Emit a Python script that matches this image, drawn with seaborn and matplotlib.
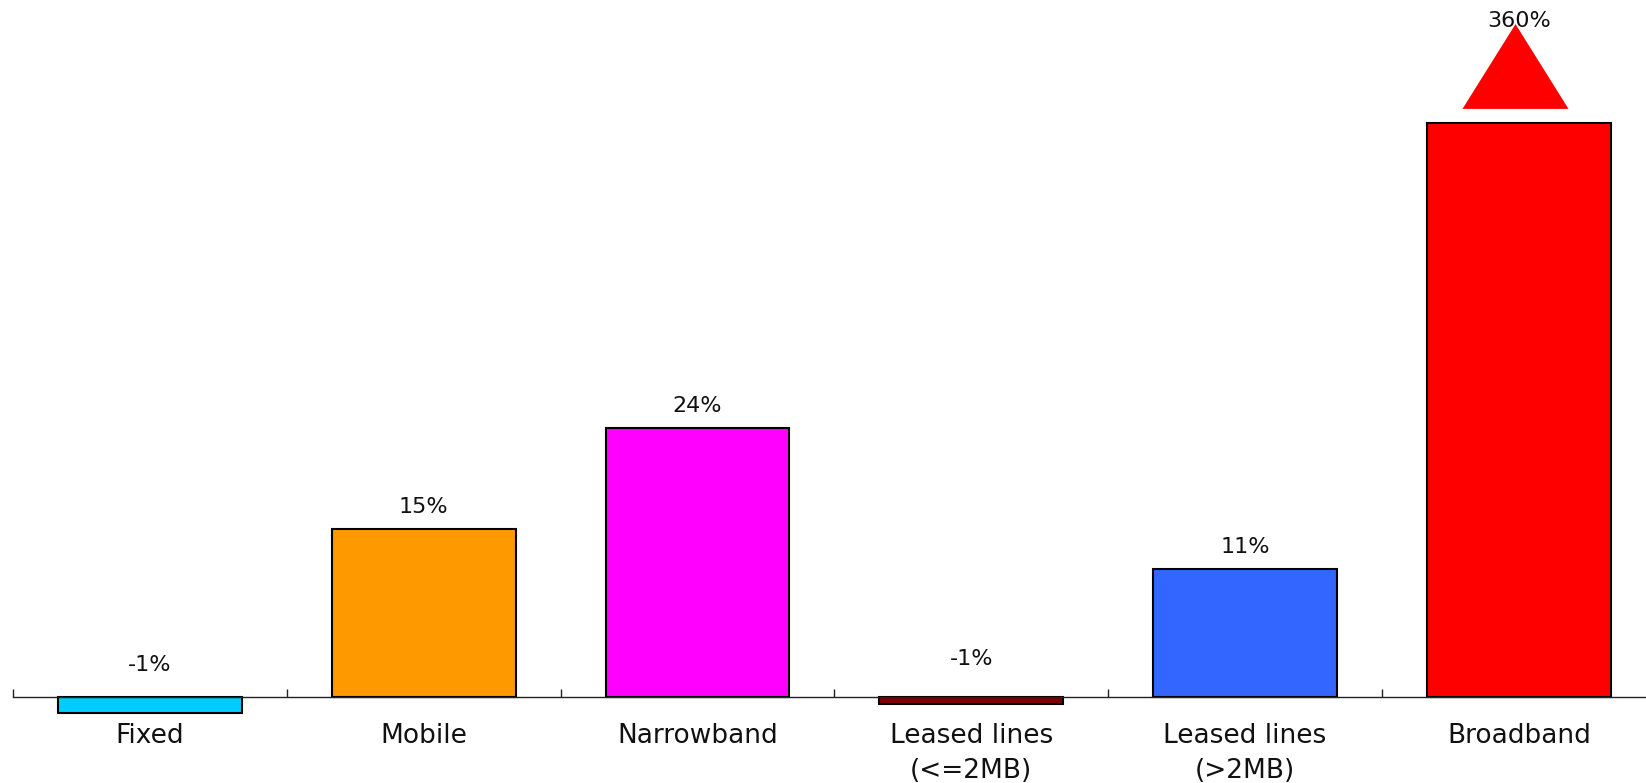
import numpy as np
import pandas as pd
import matplotlib
matplotlib.use("Agg")
import matplotlib.pyplot as plt
import matplotlib.transforms as mtransforms
import seaborn as sns

# Growth by service line
categories = ["Fixed", "Mobile", "Narrowband", "Leased lines\n(<=2MB)",
              "Leased lines\n(>2MB)", "Broadband"]
growth = [-1.4, 15.0, 24.0, -0.6, 11.4, 360.0]
colors = ["#00CCFF", "#FF9900", "#FF00FF", "#800000", "#3366FF", "#FF0000"]

sns.set_style("white")
plt.rcParams["font.family"] = ["DejaVu Sans"]
plt.rcParams["text.color"] = "#111111"

# Broken value axis: the span between the two break points is squeezed
# so the very tall bar stays on the page.
BREAK_LO, BREAK_HI, SQUEEZE = 51.0, 360.0, 0.2 / 309.0
TOP_T = BREAK_LO + (BREAK_HI - BREAK_LO) * SQUEEZE


def forward(v):
    v = np.asarray(v, dtype=float)
    return np.where(v <= BREAK_LO, v,
                    np.where(v <= BREAK_HI, BREAK_LO + (v - BREAK_LO) * SQUEEZE,
                             TOP_T + (v - BREAK_HI)))


def inverse(t):
    t = np.asarray(t, dtype=float)
    return np.where(t <= BREAK_LO, t,
                    np.where(t <= TOP_T, BREAK_LO + (t - BREAK_LO) / SQUEEZE,
                             BREAK_HI + (t - TOP_T)))


W, H, DPI = 1646, 783, 100
fig = plt.figure(figsize=(W / DPI, H / DPI), dpi=DPI)
left_px, unit_px = 13, 273.8
n = len(categories)
# the axes runs a little past the right edge of the figure
ax = fig.add_axes([left_px / W, 0, n * unit_px / W, 1])

df = pd.DataFrame({"category": categories, "growth": growth})
sns.barplot(data=df, x="category", y="growth", hue="category",
            palette=colors, width=0.672, edgecolor="black", linewidth=1.5,
            saturation=1, legend=False, ax=ax)

ax.set_yscale("function", functions=(forward, inverse))
px_per_unit = 11.22
base_px = 86
ax.set_ylim(-base_px / px_per_unit,
            float(inverse((H - base_px) / px_per_unit)))
ax.set_xlim(-0.5, n - 0.5)

# Axis line at zero with small boundary ticks
for side in ("left", "right", "top"):
    ax.spines[side].set_visible(False)
ax.spines["bottom"].set_position(("data", 0))
ax.spines["bottom"].set_color("#222222")
ax.spines["bottom"].set_linewidth(1.0)
ax.yaxis.set_visible(False)
ax.set_xticks(np.arange(-0.5, n - 0.4, 1), minor=True)
ax.tick_params(axis="x", which="minor", bottom=True, direction="in",
               length=6, width=1.0, color="#222222")
ax.tick_params(axis="x", which="major", bottom=True, length=0, pad=19,
               labelsize=19, labelcolor="#111111")
for lab in ax.get_xticklabels():
    lab.set_linespacing(1.45)
ax.set_xlabel("")
ax.set_ylabel("")

# Value labels
neg_offset = {"Fixed": 26, "Leased lines\n(<=2MB)": 32}
for i, (cat, v) in enumerate(zip(categories, growth)):
    if v < 0:
        off, y = neg_offset.get(cat, 28), 0
    elif v > BREAK_LO:
        off, y = 96, v
    else:
        off, y = 16, v
    ax.annotate(f"{v:.0f}%", xy=(i, y), xytext=(0, off),
                textcoords="offset pixels", ha="center", va="baseline",
                fontsize=16, zorder=5)

# Arrow head marking the bar that runs past the break
tri = [(-1, -0.8), (1, -0.8), (0, 0.8), (-1, -0.8)]
tri_trans = mtransforms.offset_copy(ax.transData, fig=fig, x=-4, y=56.5,
                                    units="dots")
for i, v in enumerate(growth):
    if v > BREAK_LO:
        ax.plot([i], [v], marker=tri, markersize=106 * 72 / DPI,
                color="#FF0000", markeredgewidth=0, linestyle="none",
                transform=tri_trans, clip_on=False, zorder=4)

fig.savefig("out.png", dpi=DPI)
